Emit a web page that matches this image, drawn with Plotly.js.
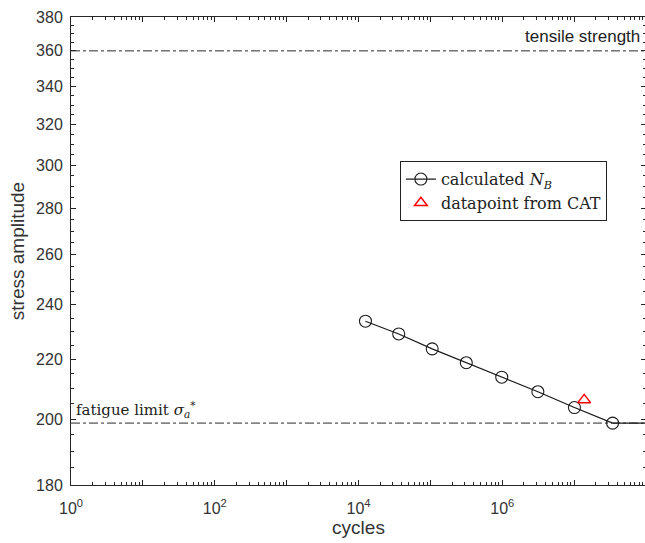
<!DOCTYPE html>
<html>
<head>
<meta charset="utf-8">
<script src="https://cdn.plot.ly/plotly-3.0.1.min.js"></script>
<style>
html,body{margin:0;padding:0;overflow:hidden;background:#fff;}
#chart{width:648px;height:543px;}
</style>
</head>
<body>
<div id="chart"></div>
<script>
// Data
const cycles = [1.25e4, 3.63e4, 1.06e5, 3.16e5, 9.84e5, 3.13e6, 1.01e7, 3.43e7];
const stressAmplitude = [233.8, 229.1, 223.7, 218.8, 213.8, 208.9, 203.7, 198.7];
const catCycles = [1.38e7];
const catStress = [206.2];
const tensileStrength = 360;
const fatigueLimit = 198.7;
const xMin = 1, xMax = 1e8;
const yMin = 180, yMax = 380;
const yTickVals = [180, 200, 220, 240, 260, 280, 300, 320, 340, 360, 380];
const xTickVals = [1, 10, 100, 1e3, 1e4, 1e5, 1e6, 1e7, 1e8];
const xTickText = ['10<sup>0</sup>', '', '10<sup>2</sup>', '', '10<sup>4</sup>', '', '10<sup>6</sup>', '', '10<sup>8</sup>'];

const yMinor = [];
for (let v = yMin + 5; v < yMax; v += 5) if (v % 20 !== 0) yMinor.push(v);
const xMinor = [];
for (let d = 1; d < xMax; d *= 10) for (let k = 2; k <= 9; k++) xMinor.push(k * d);

const axisColor = '#262626';
const lineCol = '#1a1a1a';

const traces = [
  {x: [xMin, xMax], y: [tensileStrength, tensileStrength], mode: 'lines',
   line: {color: '#2a2a2a', width: 1, dash: 'dashdot'}, showlegend: false, hoverinfo: 'skip'},
  {x: [xMin, xMax], y: [fatigueLimit, fatigueLimit], mode: 'lines',
   line: {color: '#2a2a2a', width: 1, dash: 'dashdot'}, showlegend: false, hoverinfo: 'skip'},
  {x: [cycles[cycles.length - 1], xMax], y: [fatigueLimit, fatigueLimit], mode: 'lines',
   line: {color: lineCol, width: 1.2}, showlegend: false, hoverinfo: 'skip'},
  {x: cycles, y: stressAmplitude, mode: 'lines+markers', name: 'calculated <i>N</i><sub><i>B</i></sub>',
   line: {color: lineCol, width: 1.2},
   marker: {symbol: 'circle-open', size: 12, color: lineCol, line: {width: 1.1, color: lineCol}}},
  {x: catCycles, y: catStress, mode: 'markers', name: 'datapoint from CAT',
   marker: {symbol: 'triangle-up-open', size: 11, color: '#ff0000', line: {width: 1.5, color: '#ff0000'}}}
];

const layout = {
  width: 648, height: 543,
  margin: {l: 71, r: 2, t: 17, b: 58},
  paper_bgcolor: '#fff', plot_bgcolor: '#fff',
  font: {family: 'Liberation Sans, Arial, sans-serif', color: axisColor, size: 16},
  xaxis: {
    type: 'log', range: [Math.log10(xMin), Math.log10(xMax)],
    tickmode: 'array', tickvals: xTickVals, ticktext: xTickText,
    ticks: 'inside', ticklen: 5, tickcolor: axisColor, tickwidth: 1,
    minor: {tickmode: 'array', tickvals: xMinor, ticks: 'inside', ticklen: 3, tickcolor: axisColor},
    showline: true, linecolor: axisColor, linewidth: 1, mirror: 'ticks',
    showgrid: false, zeroline: false, ticklabelstandoff: 9,
    tickfont: {size: 16, color: '#333'},
    title: {text: 'cycles', font: {size: 19, color: '#333'}, standoff: 4}
  },
  yaxis: {
    type: 'log', range: [Math.log10(yMin), Math.log10(yMax)],
    tickmode: 'array', tickvals: yTickVals, ticktext: yTickVals.map(String),
    ticks: 'inside', ticklen: 5, tickcolor: axisColor, tickwidth: 1,
    minor: {tickmode: 'array', tickvals: yMinor, ticks: 'inside', ticklen: 3, tickcolor: axisColor},
    showline: true, linecolor: axisColor, linewidth: 1, mirror: 'ticks',
    showgrid: false, zeroline: false, ticklabelstandoff: 4,
    tickfont: {size: 16, color: '#333'},
    title: {text: 'stress amplitude', font: {size: 19, color: '#333'}, standoff: 6}
  },
  legend: {
    x: 0.572, y: 0.692, xanchor: 'left', yanchor: 'top',
    bordercolor: '#222', borderwidth: 1, bgcolor: '#fff',
    font: {family: 'DejaVu Serif, Liberation Serif, serif', size: 16, color: '#222'},
    tracegroupgap: 0
  },
  annotations: [
    {x: 1, xref: 'paper', xanchor: 'right', y: Math.log10(tensileStrength), yref: 'y', yanchor: 'bottom',
     text: 'tensile strength', showarrow: false, xshift: -4, yshift: 3,
     font: {family: 'Liberation Sans, Arial, sans-serif', size: 17, color: '#222'}},
    {x: 0, xref: 'paper', xanchor: 'left', y: Math.log10(fatigueLimit), yref: 'y', yanchor: 'bottom',
     text: 'fatigue limit <i>σ</i><sub><i>a</i></sub><sup>*</sup>', showarrow: false, xshift: 3, yshift: 1,
     font: {family: 'DejaVu Serif, Liberation Serif, serif', size: 15, color: '#222'}}
  ]
};

Plotly.newPlot('chart', traces, layout, {displayModeBar: false, staticPlot: true});
</script>
</body>
</html>
